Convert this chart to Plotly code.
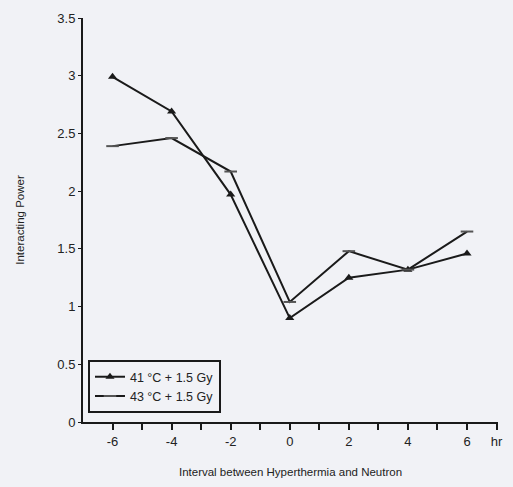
import plotly.graph_objects as go

hours = [-6, -4, -2, 0, 2, 4, 6]
power_41 = [2.99, 2.69, 1.97, 0.90, 1.25, 1.32, 1.46]
power_43 = [2.39, 2.46, 2.17, 1.04, 1.48, 1.32, 1.65]
x_tickvals = [-6, -4, -2, 0, 2, 4, 6, 7]
x_ticktext = ["-6", "-4", "-2", "0", "2", "4", "6", "hr"]
y_tickvals = [0, 0.5, 1, 1.5, 2, 2.5, 3, 3.5]
y_ticktext = ["0", "0.5", "1", "1.5", "2", "2.5", "3", "3.5"]

fig = go.Figure()
fig.add_trace(go.Scatter(
    x=hours, y=power_41, mode="lines+markers", name="41 °C + 1.5 Gy",
    line=dict(color="#1a1a1a", width=2),
    marker=dict(symbol="triangle-up", size=8, color="#1a1a1a"),
))
fig.add_trace(go.Scatter(
    x=hours, y=power_43, mode="lines+markers", name="43 °C + 1.5 Gy",
    line=dict(color="#1a1a1a", width=2),
    marker=dict(symbol="line-ew", size=9, color="#555555",
                line=dict(width=2, color="#555555")),
))

fig.update_layout(
    width=513, height=487,
    margin=dict(l=83, r=10, t=18, b=63),
    paper_bgcolor="#f1f2f6", plot_bgcolor="#f1f2f6",
    font=dict(family="Liberation Sans, Arial, sans-serif", color="#222222", size=12),
    showlegend=True,
    legend=dict(x=0.012, y=0.022, xanchor="left", yanchor="bottom",
                bgcolor="rgba(0,0,0,0)", bordercolor="#1a1a1a", borderwidth=2,
                font=dict(size=12.5), tracegroupgap=0, itemwidth=30),
    xaxis=dict(range=[-7, 7.05], tickvals=x_tickvals, ticktext=x_ticktext,
               ticks="outside", ticklen=6, tickwidth=2, tickcolor="#1a1a1a",
               minor=dict(tickvals=[-5, -3, -1, 1, 3, 5], ticks="outside", ticklen=6,
                          tickwidth=2, tickcolor="#1a1a1a"),
               showline=True, linecolor="#1a1a1a", linewidth=2, showgrid=False,
               zeroline=False, tickfont=dict(size=13),
               title=dict(text="Interval between Hyperthermia and Neutron",
                          font=dict(size=11.5), standoff=20)),
    yaxis=dict(range=[0, 3.5], tickvals=y_tickvals, ticktext=y_ticktext,
               ticks="outside", ticklen=3, tickwidth=1, tickcolor="#1a1a1a",
               showline=True, linecolor="#1a1a1a", linewidth=2, showgrid=False,
               zeroline=False, tickfont=dict(size=13),
               title=dict(text="Interacting Power", font=dict(size=11.5), standoff=30)),
)

fig.write_html("out.html")
